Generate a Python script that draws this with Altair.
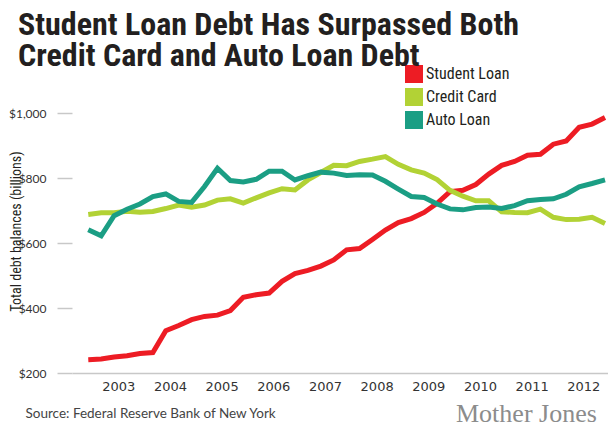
"""Deuda estudiantil vs tarjetas de crédito y préstamos de auto (NY Fed)."""

import altair as alt
import pandas as pd

# trimestres 2003 T1 .. 2013 T1, en miles de millones de dólares
first_year = 2003

student_loan = [
    241, 243, 249, 253, 260, 263, 330, 346, 364, 374, 378, 392,
    433, 441, 446, 482, 506, 516, 529, 548, 579, 583, 611, 640,
    663, 675, 694, 722, 758, 762, 780, 812, 839, 851, 870, 873,
    904, 914, 956, 966, 986,
]
credit_card = [
    688, 693, 693, 698, 695, 697, 706, 717, 710, 717, 732, 736,
    723, 739, 754, 767, 763, 794, 817, 839, 838, 851, 858, 866,
    842, 825, 815, 795, 762, 744, 730, 730, 696, 694, 693, 704,
    679, 672, 673, 679, 660,
]
auto_loan = [
    641, 622, 684, 704, 720, 743, 751, 728, 725, 774, 830, 792,
    788, 796, 821, 821, 794, 807, 818, 815, 808, 810, 809, 790,
    766, 743, 740, 720, 705, 702, 709, 711, 706, 715, 730, 734,
    736, 750, 773, 783, 794,
]

series_names = ["Student Loan", "Credit Card", "Auto Loan"]
series_colors = ["#ED1C24", "#B2D235", "#1B9E84"]
year_ticks = list(range(2003, 2013))
y_ticks = [200, 400, 600, 800, 1000]

rows = []
for name, values in zip(series_names, [student_loan, credit_card, auto_loan]):
    for i, v in enumerate(values):
        rows.append({"quarter": first_year + i / 4, "series": name, "balance": v})
df = pd.DataFrame(rows)

narrow = "'Liberation Sans Narrow', 'Roboto Condensed', Lato, sans-serif"
color_scale = alt.Scale(domain=series_names, range=series_colors)

lines = (
    alt.Chart(df)
    .mark_line(strokeWidth=5)
    .encode(
        x=alt.X(
            "quarter:Q",
            scale=alt.Scale(domain=[2002.685, 2013.058], nice=False, zero=False),
            axis=alt.Axis(
                values=year_ticks,
                format="d",
                ticks=False,
                grid=False,
                domainColor="#c8c8c8",
                domainWidth=1.5,
                labelOffset=30,
                labelPadding=7,
                labelFont="DejaVu Sans",
                labelFontSize=13,
                labelColor="#333333",
                labelOverlap=False,
                labelFlush=False,
                title="Source: Federal Reserve Bank of New York",
                titleX=-47,
                titleY=44,
                titleAlign="left",
                titleBaseline="alphabetic",
                titleFont="Lato",
                titleFontSize=13.5,
                titleFontWeight="normal",
                titleColor="#444444",
            ),
        ),
        y=alt.Y(
            "balance:Q",
            scale=alt.Scale(domain=[200, 1000], nice=False, zero=False),
            axis=alt.Axis(
                values=y_ticks,
                labelExpr="'$' + format(datum.value, ',')",
                domain=False,
                grid=False,
                tickSize=15,
                tickColor="#c8c8c8",
                tickWidth=1.5,
                labelPadding=11,
                labelFont="Lato",
                labelFontSize=12,
                labelColor="#333333",
                title="Total debt balances (billions)",
                titleX=-56,
                titleY=118,
                titleAlign="center",
                titleBaseline="middle",
                titleFont=narrow,
                titleFontSize=14,
                titleFontWeight="normal",
                titleColor="#231f20",
            ),
        ),
        color=alt.Color("series:N", scale=color_scale, legend=None),
    )
)

# leyenda a mano: cuadrados rellenos y etiquetas
legend_base = alt.Chart(pd.DataFrame({"series": series_names})).encode(
    y=alt.Y(
        "series:N",
        sort=series_names,
        scale=alt.Scale(domain=series_names, range=[-39, 7], padding=0),
        axis=None,
    ),
    color=alt.Color("series:N", scale=color_scale, legend=None),
)
legend_squares = legend_base.mark_square(size=324, opacity=1, filled=True).encode(
    x=alt.value(342)
)
legend_labels = legend_base.mark_text(
    align="left", baseline="middle", font=narrow, fontSize=16, color="#231f20"
).encode(x=alt.value(354), text="series:N", color=alt.value("#231f20"))
legend = alt.layer(legend_squares, legend_labels)

logo = (
    alt.Chart(pd.DataFrame({"logo": ["Mother Jones"]}))
    .mark_text(
        font="'Liberation Serif', serif",
        fontSize=26,
        color="#8c8c8c",
        align="left",
        baseline="alphabetic",
    )
    .encode(x=alt.value(384), y=alt.value(309), text="logo:N")
)

chart = (
    alt.layer(lines, legend, logo)
    .resolve_scale(y="independent")
    .properties(
        width=536,
        height=260,
        padding={"left": 64, "top": 105, "right": 0, "bottom": 50},
        autosize=alt.AutoSizeParams(type="none"),
        title=alt.TitleParams(
            text=["Student Loan Debt Has Surpassed Both", "Credit Card and Auto Loan Debt"],
            anchor="start",
            frame="group",
            baseline="bottom",
            font=narrow,
            fontSize=32,
            fontWeight="bold",
            color="#231f20",
            lineHeight=31,
            offset=1,
            dx=-54,
            dy=41,
        ),
    )
    .configure_view(stroke=None)
)

chart.save("out.html", embed_options={"renderer": "svg", "actions": False})
